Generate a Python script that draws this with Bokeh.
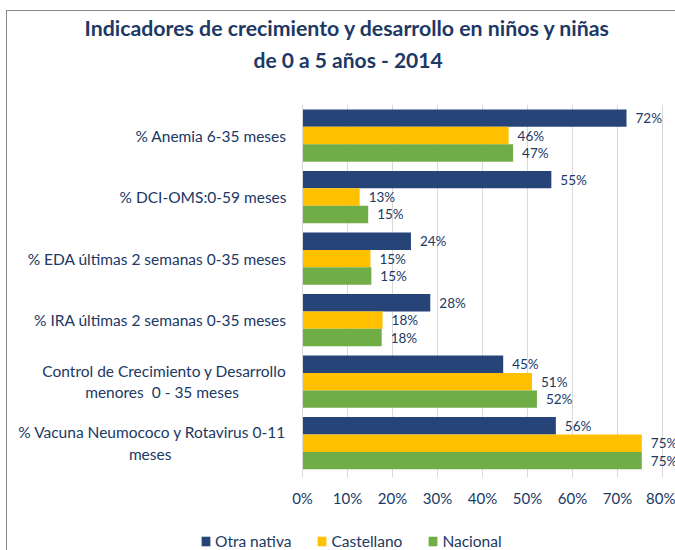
from bokeh.plotting import figure
from bokeh.models import (ColumnDataSource, Range1d, FixedTicker,
                          Title, Legend, LegendItem)
from bokeh.embed import file_html
from bokeh.resources import INLINE
from bokeh.core.properties import value

# ---------------- data ----------------
categories = [
    "% Anemia 6-35 meses",
    "% DCI-OMS:0-59 meses",
    "% EDA últimas 2 semanas 0-35 meses",
    "% IRA últimas 2 semanas 0-35 meses",
    "Control de Crecimiento y Desarrollo\nmenores  0 - 35 meses",
    "% Vacuna Neumococo y Rotavirus 0-11\nmeses",
]
otra_nativa = [72.0, 55.3, 24.1, 28.4, 44.6, 56.3]
castellano = [45.8, 12.7, 15.1, 17.8, 51.0, 75.4]
nacional = [46.8, 14.6, 15.3, 17.6, 52.1, 75.4]
series_names = ["Otra nativa", "Castellano", "Nacional"]
x_ticks = [0, 10, 20, 30, 40, 50, 60, 70, 80]
title_line1 = "Indicadores de crecimiento y desarrollo en niños y niñas"
title_line2 = "de 0 a 5 años - 2014"

# ---------------- style / layout ----------------
FONT = "Lato"
TXT = "#203864"
colors = ["#264478", "#FFC000", "#70AD47"]
W, H = 675, 550
FRAME_TOP = 104
PX_PER_PCT = 4.5
ZERO_X = 302.0
CAT_TOP_PX, CAT_BOT_PX = 104.25, 473.5
n = len(categories)
px_per_cat = (CAT_BOT_PX - CAT_TOP_PX) / n
bar_h = 0.283
offsets = [bar_h, 0.0, -bar_h]

ypos = [n - 1 - i for i in range(n)]   # first category on top

# second line of wrapped labels is centred: pad it with non-breaking spaces
pad = {4: 12, 5: 29}
tick_labels = {}
for i, c in enumerate(categories):
    lab = c.replace("  ", "\u00a0 ")
    if i in pad:
        lab = lab + "\u00a0" * pad[i]
    tick_labels[ypos[i]] = lab

data = dict(y=ypos, s0=otra_nativa, s1=castellano, s2=nacional)
for i, s in enumerate([otra_nativa, castellano, nacional]):
    data[f"y{i}"] = [y + offsets[i] for y in ypos]
    data[f"l{i}"] = [f"{round(v)}%" for v in s]
src = ColumnDataSource(data)

y_top = (n - 0.5) + (CAT_TOP_PX - FRAME_TOP) / px_per_cat
y_bot = -0.5 - (H - CAT_BOT_PX) / px_per_cat

p = figure(width=W, height=H,
           y_range=Range1d(y_bot, y_top),
           x_range=Range1d(-ZERO_X / PX_PER_PCT, (W - ZERO_X) / PX_PER_PCT),
           output_backend="svg", toolbar_location=None, title=None,
           min_border_left=0, min_border_right=0, min_border_top=FRAME_TOP,
           min_border_bottom=0)
p.styles = {"box-shadow": "inset 6px 10px 0 0 white, inset 7px 11px 0 0 #8a8a8a"}
p.outline_line_color = None
p.background_fill_color = None
p.border_fill_color = None

items = []
for i, name in enumerate(series_names):
    r = p.hbar(y=f"y{i}", right=f"s{i}", left=0, height=bar_h, source=src,
               color=colors[i], line_color=None)
    p.text(x=f"s{i}", y=f"y{i}", text=f"l{i}", source=src, x_offset=9,
           text_align="left", text_baseline="middle", text_font=value(FONT),
           text_font_size="13.5px", text_color=TXT)
    items.append(LegendItem(label=name, renderers=[r]))

# x axis (inside the frame, at the bottom of the category band)
p.xaxis.fixed_location = -0.5
p.xaxis.ticker = FixedTicker(ticks=x_ticks)
p.xaxis.major_label_overrides = {t: f"{t}%" for t in x_ticks}
p.xaxis.axis_line_color = None
p.xaxis.major_tick_line_color = "#D9D9D9"
p.xaxis.major_tick_out = 3
p.xaxis.major_tick_in = 0
p.xaxis.minor_tick_line_color = None
p.xaxis.major_label_text_font = FONT
p.xaxis.major_label_text_font_size = "15px"
p.xaxis.major_label_text_color = TXT
p.xaxis.major_label_standoff = 12

# y axis at 0 %
p.yaxis.fixed_location = 0
p.yaxis.bounds = (-0.5, n - 0.5)
p.yaxis.ticker = FixedTicker(ticks=ypos)
p.yaxis.major_label_overrides = tick_labels
p.yaxis.axis_line_color = "#D9D9D9"
p.yaxis.major_tick_line_color = None
p.yaxis.minor_tick_line_color = None
p.yaxis.major_label_text_font = FONT
p.yaxis.major_label_text_font_size = "15.5px"
p.yaxis.major_label_text_color = TXT
p.yaxis.major_label_standoff = 10

p.xgrid.grid_line_color = "#D9D9D9"
p.xgrid.ticker = FixedTicker(ticks=x_ticks)
p.xgrid.cross_bounds = (-0.5, n - 0.5)
p.ygrid.grid_line_color = None

legend = Legend(items=items, orientation="horizontal", location=(200, 0),
                border_line_color=None, background_fill_alpha=0,
                label_text_font=FONT, label_text_font_size="15.5px",
                label_text_color=TXT, glyph_width=11, glyph_height=12,
                spacing=25, padding=0, margin=0, label_standoff=4)
p.add_layout(legend, "center")

# spacer between frame and title lines
p.add_layout(Title(text="\u00a0", text_font_size="1px", standoff=28), "above")
t2 = Title(text=title_line2, align="left", offset=253, text_font=FONT,
           text_font_size="21px", text_font_style="bold", text_color=TXT,
           standoff=4)
t1 = Title(text=title_line1, align="left", offset=84, text_font=FONT,
           text_font_size="21.3px", text_font_style="bold", text_color=TXT,
           standoff=4)
p.add_layout(t2, "above")
p.add_layout(t1, "above")

open("out.html", "w").write(file_html(p, INLINE))
